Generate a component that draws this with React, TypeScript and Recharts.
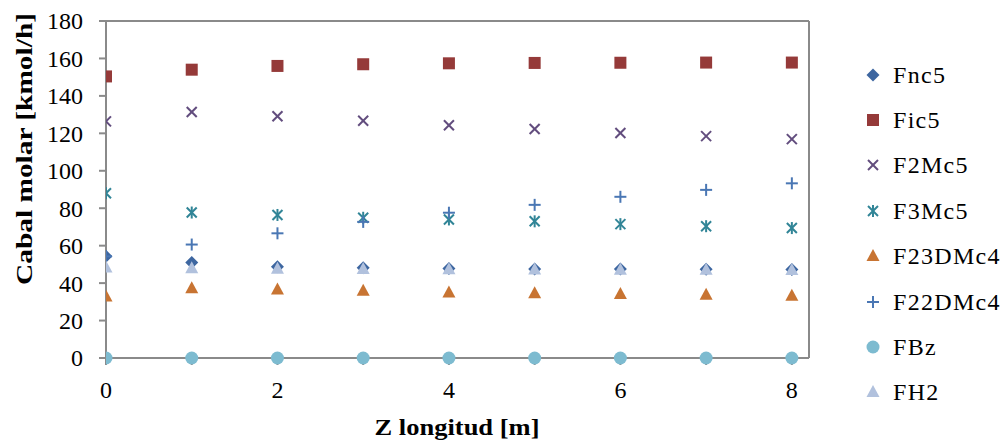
import React from "react";
import {
  ScatterChart,
  Scatter,
  XAxis,
  YAxis,
  ReferenceLine,
} from "recharts";

const zLongitud = [0, 1, 2, 3, 4, 5, 6, 7, 8];

const fnc5 = [54.3, 51, 48.8, 48.2, 47.8, 47.6, 47.5, 47.4, 47.3];
const fic5 = [150.4, 154, 156, 156.9, 157.4, 157.6, 157.7, 157.8, 157.8];
const f2mc5 = [126.4, 131.4, 129.1, 126.7, 124.3, 122.3, 120.2, 118.5, 116.9];
const f3mc5 = [88, 77.7, 76.4, 74.9, 74, 73, 71.5, 70.4, 69.4];
const f23dmc4 = [32.8, 37.2, 36.6, 35.9, 35, 34.6, 34.2, 33.8, 33.2];
const f22dmc4 = [54.3, 60.6, 66.6, 72.7, 77.6, 81.8, 86.1, 89.8, 93.3];
const fbz = [0, 0, 0, 0, 0, 0, 0, 0, 0];
const fh2 = [48.3, 47.9, 47.7, 47.5, 47.4, 47.3, 47.2, 47.1, 47];

const yTicks = [0, 20, 40, 60, 80, 100, 120, 140, 160, 180];
const xTicks = [0, 1, 2, 3, 4, 5, 6, 7, 8];

const AXIS = "#8a8a8a";
const FONT = '"Liberation Serif", "Times New Roman", serif';

type Mk = "diamond" | "square" | "x" | "asterisk" | "triangle" | "plus" | "circle";

function Marker({ kind, cx, cy, color }: { kind: Mk; cx: number; cy: number; color: string }) {
  switch (kind) {
    case "diamond":
      return <polygon points={`${cx},${cy - 6.5} ${cx + 6.5},${cy} ${cx},${cy + 6.5} ${cx - 6.5},${cy}`} fill={color} />;
    case "square":
      return <rect x={cx - 6} y={cy - 6} width={12} height={12} fill={color} />;
    case "x":
      return (
        <g stroke={color} strokeWidth={2}>
          <line x1={cx - 5} y1={cy - 5} x2={cx + 5} y2={cy + 5} />
          <line x1={cx - 5} y1={cy + 5} x2={cx + 5} y2={cy - 5} />
        </g>
      );
    case "asterisk":
      return (
        <g stroke={color} strokeWidth={2}>
          <line x1={cx - 5} y1={cy - 5} x2={cx + 5} y2={cy + 5} />
          <line x1={cx - 5} y1={cy + 5} x2={cx + 5} y2={cy - 5} />
          <line x1={cx} y1={cy - 6} x2={cx} y2={cy + 6} />
        </g>
      );
    case "triangle":
      return <polygon points={`${cx},${cy - 7} ${cx + 6.5},${cy + 5} ${cx - 6.5},${cy + 5}`} fill={color} />;
    case "plus":
      return (
        <g stroke={color} strokeWidth={2}>
          <line x1={cx - 6} y1={cy} x2={cx + 6} y2={cy} />
          <line x1={cx} y1={cy - 6} x2={cx} y2={cy + 6} />
        </g>
      );
    default:
      return <circle cx={cx} cy={cy} r={6.5} fill={color} />;
  }
}

const SERIES: { name: string; values: number[]; color: string; kind: Mk }[] = [
  { name: "Fnc5", values: fnc5, color: "#3d66a0", kind: "diamond" },
  { name: "Fic5", values: fic5, color: "#953a39", kind: "square" },
  { name: "F2Mc5", values: f2mc5, color: "#624d7e", kind: "x" },
  { name: "F3Mc5", values: f3mc5, color: "#318597", kind: "asterisk" },
  { name: "F23DMc4", values: f23dmc4, color: "#c87432", kind: "triangle" },
  { name: "F22DMc4", values: f22dmc4, color: "#4a77b4", kind: "plus" },
  { name: "FBz", values: fbz, color: "#7dbbd0", kind: "circle" },
  { name: "FH2", values: fh2, color: "#b1c1dd", kind: "triangle" },
];

function LegendBox() {
  return (
    <div
      style={{
        position: "absolute",
        left: 865,
        top: 52,
        fontFamily: FONT,
        fontSize: 24,
        color: "#000",
        lineHeight: 1,
      }}
    >
      {SERIES.map((s) => (
        <div key={s.name} style={{ display: "flex", alignItems: "center", height: 45.4 }}>
          <svg width={16} height={16} style={{ marginRight: 12 }}>
            <Marker kind={s.kind} cx={8} cy={8} color={s.color} />
          </svg>
          <span style={{ letterSpacing: 1.3 }}>{s.name}</span>
        </div>
      ))}
    </div>
  );
}

function YTick(p: any) {
  return (
    <text x={83} y={p.y} dy="0.35em" textAnchor="end" fill="#000" fontSize={24} fontFamily={FONT}>
      {p.payload.value}
    </text>
  );
}

function YTitle() {
  return (
    <text
      x={24}
      y={149}
      transform="rotate(-90, 24, 149)"
      textAnchor="middle"
      dominantBaseline="central"
      fontSize={24}
      fontWeight="bold"
      fontFamily={FONT}
      fill="#000"
      textLength={272}
      lengthAdjust="spacingAndGlyphs"
    >
      Cabal molar [kmol/h]
    </text>
  );
}

function XTitle() {
  return (
    <text
      x={457}
      y={435}
      textAnchor="middle"
      fontSize={23}
      fontWeight="bold"
      fontFamily={FONT}
      fill="#000"
      textLength={165}
      lengthAdjust="spacingAndGlyphs"
    >
      Z longitud [m]
    </text>
  );
}

export default function App() {
  return (
    <div style={{ position: "absolute", left: 0, top: 0, width: 1006, height: 444, background: "#fff" }}>
      <ScatterChart width={1006} height={444} margin={{ top: 21, right: 197, bottom: 0, left: 0 }}>
        <XAxis
          type="number"
          dataKey="x"
          domain={[0, 8.2]}
          ticks={xTicks}
          tickFormatter={(v: number) => (v % 2 === 0 ? String(v) : "")}
          interval={0}
          allowDataOverflow
          height={86}
          tickSize={7}
          tickMargin={16}
          axisLine={{ stroke: AXIS, strokeWidth: 2 }}
          tickLine={{ stroke: AXIS, strokeWidth: 2 }}
          tick={{ fill: "#000", fontSize: 24, fontFamily: FONT }}
          label={<XTitle />}
        />
        <YAxis
          type="number"
          dataKey="y"
          domain={[0, 180]}
          ticks={yTicks}
          interval={0}
          width={106}
          tickSize={7}
          axisLine={{ stroke: AXIS, strokeWidth: 2 }}
          tickLine={{ stroke: AXIS, strokeWidth: 2 }}
          tick={<YTick />}
          label={<YTitle />}
        />
        <ReferenceLine y={180} stroke={AXIS} strokeWidth={2} />
        <ReferenceLine x={8.2} stroke={AXIS} strokeWidth={2} />
        {SERIES.map((s) => (
          <Scatter
            key={s.name}
            name={s.name}
            data={zLongitud.map((z, i) => ({ x: z, y: s.values[i] }))}
            isAnimationActive={false}
            shape={(p: any) => <Marker kind={s.kind} cx={p.cx} cy={p.cy} color={s.color} />}
          />
        ))}
      </ScatterChart>
      <LegendBox />
    </div>
  );
}
